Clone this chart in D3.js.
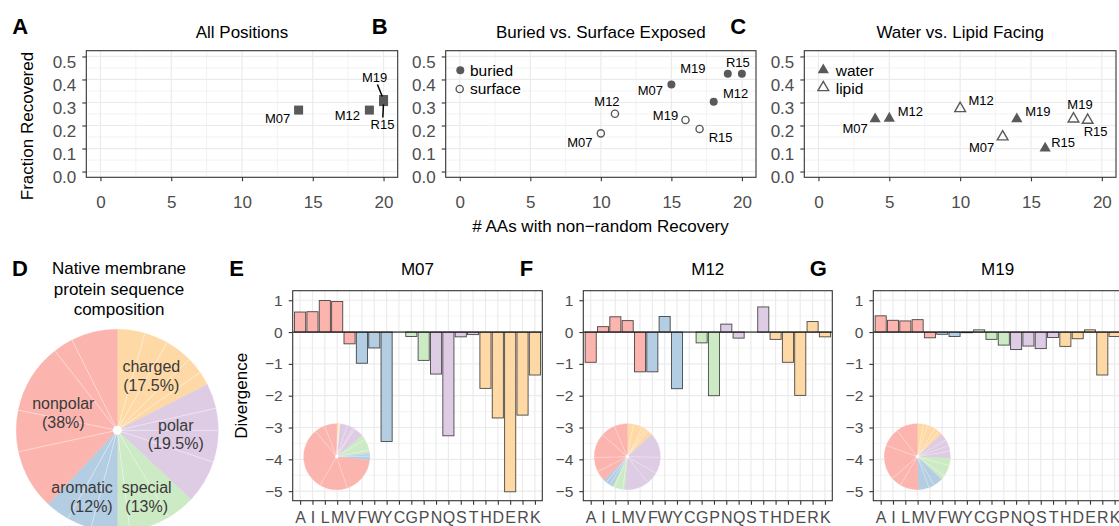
<!DOCTYPE html>
<html>
<head>
<meta charset="utf-8">
<script src="https://cdn.jsdelivr.net/npm/d3@7"></script>
<style>
  body { margin: 0; background: #fff; }
  svg { display: block; font-family: "Liberation Sans", Arial, Helvetica, sans-serif; }
</style>
</head>
<body>
<svg width="1119" height="526"></svg>
<script>
// ---------------- data ----------------
const models = ["M07", "M12", "M19", "R15"];

// A: all positions
const allNonRandom = [14, 19, 20, 20];
const allFrac = [0.267, 0.267, 0.313, 0.304];
// B: buried vs surface
const buriedNonRandom = [15, 18, 19, 20];
const buriedFrac = [0.378, 0.303, 0.425, 0.425];
const surfaceNonRandom = [10, 11, 16, 17];
const surfaceFrac = [0.166, 0.251, 0.224, 0.185];
// C: water vs lipid
const waterNonRandom = [4, 5, 14, 16];
const waterFrac = [0.228, 0.231, 0.228, 0.101];
const lipidNonRandom = [13, 10, 18, 19];
const lipidFrac = [0.151, 0.274, 0.229, 0.223];

const xTicks = [0, 5, 10, 15, 20];
const yTicks = [0, 0.1, 0.2, 0.3, 0.4, 0.5];

// amino acids and groups
const aas = ["A","I","L","M","V","F","W","Y","C","G","P","N","Q","S","T","H","D","E","R","K"];
const aaGroup = ["nonpolar","nonpolar","nonpolar","nonpolar","nonpolar",
                 "aromatic","aromatic","aromatic",
                 "special","special","special",
                 "polar","polar","polar","polar",
                 "charged","charged","charged","charged","charged"];
const groups = ["nonpolar", "aromatic", "special", "polar", "charged"];
const groupPct = ["38%", "12%", "13%", "19.5%", "17.5%"];
const groupColors = ["#FBB4AE", "#B3CDE3", "#CCEBC5", "#DECBE4", "#FED9A6"];

// composition (%) per amino acid, same order as aas
const nativeComp = [7.4, 3.2, 11.2, 6.6, 9.6, 3.9, 3.9, 4.2, 2.0, 6.5, 4.5, 6.9, 5.1, 3.5, 4.0, 2.2, 2.7, 4.4, 3.8, 4.4];
const m07Comp = [6, 5, 30.6, 13.6, 18, 2, 1.2, 0.3, 1.5, 5.5, 2.2, 5, 0.8, 3, 3.5, 0.3, 0.25, 0.1, 0.3, 0.8];
const m12Comp = [6.4, 7, 12, 7, 5, 1.7, 2, 1.5, 1.1, 4, 1, 11.9, 6, 8, 12, 2.8, 1.5, 1.5, 4.5, 3];
const m19Comp = [10.5, 9, 17, 5, 9, 5.3, 2.8, 4.5, 2.1, 5.5, 3.5, 3.5, 2.7, 3, 3.5, 1.9, 2.2, 4, 2, 3];

// divergence per amino acid (null = no bar)
const m07Div = [0.63, 0.64, 0.99, 0.96, -0.37, -0.98, -0.5, -3.44, null, -0.14, -0.89, -1.32, -3.26, -0.15, -0.08, -1.77, -2.7, -5.02, -2.61, -1.35];
const m12Div = [-0.95, 0.17, 0.48, 0.36, -1.25, -1.25, 0.49, -1.78, null, -0.34, -2.0, 0.25, -0.19, null, 0.79, -0.23, -0.95, -1.99, 0.33, -0.15];
const m19Div = [0.51, 0.37, 0.35, 0.39, -0.18, -0.07, -0.14, -0.02, 0.07, -0.23, -0.41, -0.55, -0.44, -0.52, -0.17, -0.45, -0.21, 0.07, -1.35, -0.14];
const divTicks = [-5, -4, -3, -2, -1, 0, 1];

// label nudges (px, label centre relative to point), order as models
const nudgeAll = [[-21, 8], [-22, 5], [-9, -22], [-1, 23]];
const segAll = [false, false, true, true];
const nudgeBuried = [[-21, 5.5], [22, -8], [-35, -5], [-4, -11]];
const nudgeSurface = [[-21, 9.5], [-8, -12], [-20, -4], [21, 9]];
const nudgeWater = [[-20, 9], [21, -7], [21, -8], [18, -6]];
const nudgeLipid = [[-21, 10.5], [21, -7.5], [6.5, -14], [8, 11]];
// pie D group label placement relative to pie centre (group order)
const pieLabelPos = [[-54, -17, "middle"], [-4.6, 67, "end"], [29.4, 67, "middle"], [58.5, 4.2, "middle"], [34, -54, "middle"]];

// ---------------- layout ----------------
const svg = d3.select("svg");
const ptColor = "#595959";
const gridColor = "#EBEBEB";
const tickText = "#4D4D4D";

const top0 = 50.7, top1 = 177.3;
const bot0 = 290.7, bot1 = 500.7;

const colorOf = i => groupColors[groups.indexOf(aaGroup[i])];

function frame(g, x0, x1, y0, y1) {
  g.append("rect").attr("x", x0).attr("y", y0).attr("width", x1 - x0).attr("height", y1 - y0)
    .attr("fill", "none").attr("stroke", "#333").attr("stroke-width", 1.1);
}

function styleAxis(ax, size) {
  ax.select(".domain").remove();
  ax.selectAll(".tick line").attr("stroke", "#333").attr("stroke-width", 1.1);
  ax.selectAll(".tick text").attr("fill", tickText).style("font-size", size + "px")
    .style("font-family", "'Liberation Sans', Arial, sans-serif");
}

const scatterPanel = (x0, x1, title, letter) => {
  const x = d3.scaleLinear().domain([-1, 21]).range([x0, x1]);
  const y = d3.scaleLinear().domain([-0.025, 0.525]).range([top1, top0]);
  const g = svg.append("g");

  [2.5, 7.5, 12.5, 17.5].forEach(v => g.append("line").attr("x1", x(v)).attr("x2", x(v)).attr("y1", top0).attr("y2", top1)
    .attr("stroke", gridColor).attr("stroke-width", 0.6));
  d3.range(0.05, 0.5, 0.1).forEach(v => g.append("line").attr("y1", y(v)).attr("y2", y(v)).attr("x1", x0).attr("x2", x1)
    .attr("stroke", gridColor).attr("stroke-width", 0.6));
  xTicks.forEach(v => g.append("line").attr("x1", x(v)).attr("x2", x(v)).attr("y1", top0).attr("y2", top1)
    .attr("stroke", gridColor).attr("stroke-width", 1.2));
  yTicks.forEach(v => g.append("line").attr("y1", y(v)).attr("y2", y(v)).attr("x1", x0).attr("x2", x1)
    .attr("stroke", gridColor).attr("stroke-width", 1.2));

  const ax = g.append("g").attr("transform", `translate(0,${top1})`)
    .call(d3.axisBottom(x).tickValues(xTicks).tickSize(4).tickPadding(15));
  styleAxis(ax, 17);
  const ay = g.append("g").attr("transform", `translate(${x0},0)`)
    .call(d3.axisLeft(y).tickValues(yTicks).tickFormat(d3.format(".1f")).tickSize(4).tickPadding(6));
  styleAxis(ay, 17);
  ay.selectAll(".tick text").attr("y", 6);

  g.append("text").attr("x", (x0 + x1) / 2).attr("y", 32).attr("text-anchor", "middle")
    .attr("dominant-baseline", "central").style("font-size", "17px").text(title);
  g.append("text").attr("x", x0 - 74).attr("y", 26).attr("dominant-baseline", "central")
    .style("font-size", "22px").style("font-weight", "bold").text(letter);
  return { g, x, y };
};

function pointLabels(p, xs, ys, nudges, segs) {
  models.forEach((m, i) => {
    const px = p.x(xs[i]), py = p.y(ys[i]);
    const lx = px + nudges[i][0], ly = py + nudges[i][1];
    if (segs && segs[i]) {
      const dy = Math.abs(py - ly);
      const t0 = 7 / dy, t1 = 1 - 3 / dy;
      p.g.append("line")
        .attr("x1", lx + (px - lx) * t0).attr("y1", ly + (py - ly) * t0)
        .attr("x2", lx + (px - lx) * t1).attr("y2", ly + (py - ly) * t1)
        .attr("stroke", "#000").attr("stroke-width", 1.5);
    }
    p.g.append("text").attr("x", lx).attr("y", ly).attr("text-anchor", "middle")
      .attr("dominant-baseline", "central").style("font-size", "13px").text(m);
  });
}

// A
const pA = scatterPanel(86.3, 397.7, "All Positions", "A");
pA.g.selectAll(".sq").data(models).join("rect")
  .attr("x", (d, i) => pA.x(allNonRandom[i]) - 4.5).attr("y", (d, i) => pA.y(allFrac[i]) - 4.5)
  .attr("width", 9).attr("height", 9).attr("fill", ptColor);
pointLabels(pA, allNonRandom, allFrac, nudgeAll, segAll);
svg.append("text").attr("transform", "translate(27,126) rotate(-90)").attr("text-anchor", "middle")
  .attr("dominant-baseline", "central").style("font-size", "17px").text("Fraction Recovered");
frame(pA.g, 86.3, 397.7, top0, top1);

// B
const pB = scatterPanel(445.7, 756, "Buried vs. Surface Exposed", "B");
pB.g.selectAll(".bur").data(models).join("circle")
  .attr("cx", (d, i) => pB.x(buriedNonRandom[i])).attr("cy", (d, i) => pB.y(buriedFrac[i]))
  .attr("r", 4).attr("fill", ptColor);
pB.g.selectAll(".sur").data(models).join("circle")
  .attr("cx", (d, i) => pB.x(surfaceNonRandom[i])).attr("cy", (d, i) => pB.y(surfaceFrac[i]))
  .attr("r", 3.6).attr("fill", "none").attr("stroke", ptColor).attr("stroke-width", 1.4);
pointLabels(pB, buriedNonRandom, buriedFrac, nudgeBuried);
pointLabels(pB, surfaceNonRandom, surfaceFrac, nudgeSurface);
pB.g.append("circle").attr("cx", 460.3).attr("cy", 70.3).attr("r", 4).attr("fill", ptColor);
pB.g.append("circle").attr("cx", 459.7).attr("cy", 89).attr("r", 3.6).attr("fill", "none")
  .attr("stroke", ptColor).attr("stroke-width", 1.4);
pB.g.append("text").attr("x", 470).attr("y", 70).attr("dominant-baseline", "central").style("font-size", "15.5px").text("buried");
pB.g.append("text").attr("x", 470).attr("y", 88.5).attr("dominant-baseline", "central").style("font-size", "15.5px").text("surface");
svg.append("text").attr("x", 600.5).attr("y", 226).attr("text-anchor", "middle").attr("dominant-baseline", "central")
  .style("font-size", "17px").text("# AAs with non\u2212random Recovery");
frame(pB.g, 445.7, 756, top0, top1);

// C
const pC = scatterPanel(804.3, 1116, "Water vs. Lipid Facing", "C");
const triFill = d3.symbol().type(d3.symbolTriangle).size(55);
const triOpen = d3.symbol().type(d3.symbolTriangle).size(50);
pC.g.selectAll(".wat").data(models).join("path").attr("d", triFill)
  .attr("transform", (d, i) => `translate(${pC.x(waterNonRandom[i])},${pC.y(waterFrac[i])})`).attr("fill", ptColor);
pC.g.selectAll(".lip").data(models).join("path").attr("d", triOpen)
  .attr("transform", (d, i) => `translate(${pC.x(lipidNonRandom[i])},${pC.y(lipidFrac[i])})`)
  .attr("fill", "none").attr("stroke", ptColor).attr("stroke-width", 1.4);
pointLabels(pC, waterNonRandom, waterFrac, nudgeWater);
pointLabels(pC, lipidNonRandom, lipidFrac, nudgeLipid);
pC.g.append("path").attr("d", triFill).attr("transform", "translate(823.3,70)").attr("fill", ptColor);
pC.g.append("path").attr("d", triOpen).attr("transform", "translate(823.3,87.5)").attr("fill", "none")
  .attr("stroke", ptColor).attr("stroke-width", 1.4);
pC.g.append("text").attr("x", 835.7).attr("y", 70).attr("dominant-baseline", "central").style("font-size", "15.5px").text("water");
pC.g.append("text").attr("x", 835.7).attr("y", 88).attr("dominant-baseline", "central").style("font-size", "15.5px").text("lipid");
frame(pC.g, 804.3, 1116, top0, top1);

// ---------------- pies ----------------
function drawPie(g, cx, cy, r, comp, hole, lw) {
  const order = d3.range(aas.length).reverse(); // K first, clockwise from 12 o'clock
  const arcs = d3.pie().sort(null).value(i => comp[i])(order);
  const arc = d3.arc().innerRadius(0).outerRadius(r);
  const pg = g.append("g").attr("transform", `translate(${cx},${cy})`);
  pg.selectAll("path").data(arcs).join("path").attr("d", arc)
    .attr("fill", d => colorOf(d.data)).attr("stroke", d => colorOf(d.data)).attr("stroke-width", 0.4);
  arcs.forEach((d, k) => {
    if (k > 0 && aaGroup[arcs[k - 1].data] === aaGroup[d.data]) {
      pg.append("line").attr("x1", 0).attr("y1", 0)
        .attr("x2", r * Math.sin(d.startAngle)).attr("y2", -r * Math.cos(d.startAngle))
        .attr("stroke", "#fff").attr("stroke-opacity", 0.55).attr("stroke-width", lw);
    }
  });
  pg.append("circle").attr("r", hole).attr("fill", "#fff");
  return { pg, arcs };
}

// D
const gD = svg.append("g");
gD.append("text").attr("x", 12).attr("y", 268.8).attr("dominant-baseline", "central")
  .style("font-size", "22px").style("font-weight", "bold").text("D");
["Native membrane", "protein sequence", "composition"].forEach((t, i) => {
  gD.append("text").attr("x", 119).attr("y", 268.3 + i * 20.7).attr("text-anchor", "middle")
    .attr("dominant-baseline", "central").style("font-size", "17px").text(t);
});
const pieD = drawPie(gD, 117.3, 430.3, 101, nativeComp, 4.5, 0.8);
groups.forEach((grp, gi) => {
  const [lx, ly, anchor] = pieLabelPos[gi];
  [grp, "(" + groupPct[gi] + ")"].forEach((t, k) => {
    pieD.pg.append("text").attr("x", lx).attr("y", ly - 9.5 + k * 19).attr("text-anchor", anchor)
      .attr("dominant-baseline", "central").attr("fill", "#3a3a3a").style("font-size", "16px").text(t);
  });
});

// ---------------- divergence bars ----------------
const barPanel = (x0, x1, title, letter, div, comp) => {
  const x = d3.scalePoint().domain(aas).range([x0, x1]).padding(0.6);
  const y = d3.scaleLinear().domain([-5.3, 1.3]).range([bot1, bot0]);
  const bw = x.step() * 0.9;
  const g = svg.append("g");

  d3.range(-4.5, 1, 1).forEach(v => g.append("line").attr("y1", y(v)).attr("y2", y(v)).attr("x1", x0).attr("x2", x1)
    .attr("stroke", gridColor).attr("stroke-width", 0.6));
  divTicks.forEach(v => g.append("line").attr("y1", y(v)).attr("y2", y(v)).attr("x1", x0).attr("x2", x1)
    .attr("stroke", gridColor).attr("stroke-width", 1.2));
  aas.forEach(a => g.append("line").attr("x1", x(a)).attr("x2", x(a)).attr("y1", bot0).attr("y2", bot1)
    .attr("stroke", gridColor).attr("stroke-width", 1.2));

  drawPie(g, x0 + 44, bot1 - 44, 33, comp, 1.6, 0.6);

  g.selectAll(".bar").data(aas.map((a, i) => i).filter(i => div[i] !== null)).join("rect")
    .attr("x", i => x(aas[i]) - bw / 2).attr("width", bw)
    .attr("y", i => y(Math.max(0, div[i]))).attr("height", i => Math.abs(y(div[i]) - y(0)))
    .attr("fill", i => colorOf(i)).attr("stroke", "#2b2b2b").attr("stroke-opacity", 0.85).attr("stroke-width", 0.9);
  g.append("line").attr("x1", x0).attr("x2", x1).attr("y1", y(0)).attr("y2", y(0))
    .attr("stroke", "#000").attr("stroke-width", 1);

  const ax = g.append("g").attr("transform", `translate(0,${bot1})`)
    .call(d3.axisBottom(x).tickSize(4).tickPadding(7));
  styleAxis(ax, 16);
  const ay = g.append("g").attr("transform", `translate(${x0},0)`)
    .call(d3.axisLeft(y).tickValues(divTicks).tickFormat(d3.format("d")).tickSize(4).tickPadding(6));
  styleAxis(ay, 15.5);

  g.append("text").attr("x", (x0 + x1) / 2).attr("y", 269.2).attr("text-anchor", "middle")
    .attr("dominant-baseline", "central").style("font-size", "17px").text(title);
  g.append("text").attr("x", x0 - 63.5).attr("y", 268.8).attr("dominant-baseline", "central")
    .style("font-size", "22px").style("font-weight", "bold").text(letter);
  frame(g, x0, x1, bot0, bot1);
};

barPanel(292.7, 542.3, "M07", "E", m07Div, m07Comp);
barPanel(583.3, 832.3, "M12", "F", m12Div, m12Comp);
barPanel(873.3, 1122, "M19", "G", m19Div, m19Comp);
svg.append("text").attr("transform", "translate(241.7,395.8) rotate(-90)").attr("text-anchor", "middle")
  .attr("dominant-baseline", "central").style("font-size", "17px").text("Divergence");
</script>
</body>
</html>
